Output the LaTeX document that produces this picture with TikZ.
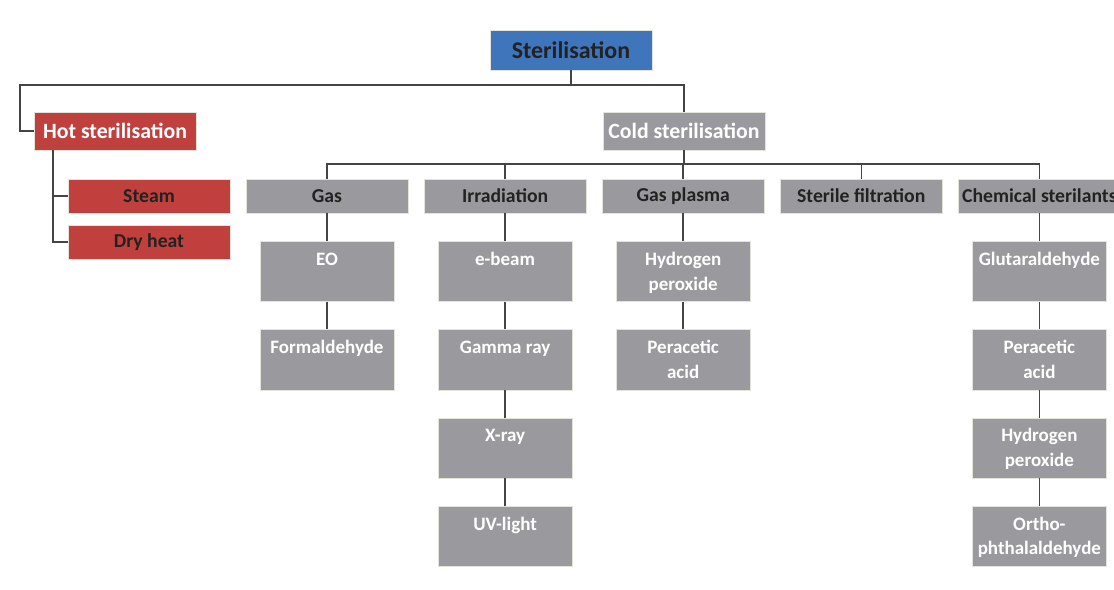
\documentclass[tikz,border=0pt]{standalone}
\usepackage{fontspec}
\setmainfont{Carlito}
\usetikzlibrary{positioning}
\definecolor{sterblue}{RGB}{63,117,186}
\definecolor{hotred}{RGB}{191,64,60}
\definecolor{coldgray}{RGB}{154,154,158}
\definecolor{linegray}{RGB}{68,68,68}
\definecolor{edgegray}{RGB}{228,228,220}
\definecolor{darktext}{RGB}{34,34,34}
\newcommand{\cell}[1]{\parbox[t]{3.2cm}{\centering #1}}

\begin{document}
\begin{tikzpicture}[x=0.025cm,y=-0.025cm,
	box/.style={draw=edgegray,line width=0.6pt,inner sep=0pt,minimum width=4.05cm},
	root/.style={box,fill=sterblue,text=darktext,minimum height=1cm,font=\fontsize{17}{20}\selectfont\bfseries},
	branch/.style={box,text=white,minimum height=0.95cm,font=\fontsize{15.5}{18}\selectfont\bfseries},
	method/.style={box,fill=coldgray,text=darktext,minimum height=0.85cm,font=\fontsize{14}{17}\selectfont\bfseries},
	hotmethod/.style={method,fill=hotred},
	leaf/.style={box,fill=coldgray,text=white,minimum width=3.35cm,text height=0.6cm,text depth=0.9cm,font=\fontsize{13.5}{17.7}\selectfont\bfseries},
	link/.style={draw=linegray,line width=1pt}
	]
	\useasboundingbox (0,0) rectangle (1114,590);
	%% top
	\node[root] (ster) at (571,50) {Sterilisation};
	\node[branch,fill=hotred] (hot) at (115,131) {Hot sterilisation};
	\node[branch,fill=coldgray] (cold) at (684,131) {Cold sterilisation};
	\coordinate (j0) at (571,85);
	\coordinate (hl) at (20,131);
	\draw[link] (ster.south) -- (j0) -| (hl) -- (hot.west);
	\draw[link] (j0) -| (cold.north);

	%% hot
	\node[hotmethod] (steam) at (149,196) {Steam};
	\node[hotmethod,below=0.28cm of steam] (dry) {Dry heat};
	\coordinate (h0) at (53,150);
	\draw[link] (h0) |- (steam.west);
	\draw[link] (h0) |- (dry.west);

	%% cold
	\node[method] (gas) at (327,196) {Gas};
	\node[method,right=0.38cm of gas] (irr) {Irradiation};
	\node[method,right=0.38cm of irr] (plasma) {Gas plasma};
	\node[method,right=0.38cm of plasma] (filt) {Sterile filtration};
	\node[method,right=0.38cm of filt] (chem) {Chemical sterilants};
	\coordinate (j1) at (684,164);
	\draw[link] (cold.south) -- (j1);
	\foreach \m in {gas,irr,plasma,filt,chem}
		\draw[link] (j1) -| (\m.north);

	% gas
	\node[leaf,below=0.7cm of gas] (eo) {\cell{EO}};
	\node[leaf,below=0.68cm of eo] (form) {\cell{Formaldehyde}};
	\draw[link] (gas) -- (eo) -- (form);
	% irradiation
	\node[leaf,below=0.7cm of irr] (ebeam) {\cell{e-beam}};
	\node[leaf,below=0.68cm of ebeam] (gamma) {\cell{Gamma ray}};
	\node[leaf,below=0.68cm of gamma] (xray) {\cell{X-ray}};
	\node[leaf,below=0.68cm of xray] (uv) {\cell{UV-light}};
	\draw[link] (irr) -- (ebeam) -- (gamma) -- (xray) -- (uv);
	% gas plasma
	\node[leaf,below=0.7cm of plasma] (hp) {\cell{Hydrogen\\peroxide}};
	\node[leaf,below=0.68cm of hp] (pa) {\cell{Peracetic\\acid}};
	\draw[link] (plasma) -- (hp) -- (pa);
	% chemical
	\node[leaf,below=0.7cm of chem] (glut) {\cell{Glutaraldehyde}};
	\node[leaf,below=0.68cm of glut] (chpa) {\cell{Peracetic\\acid}};
	\node[leaf,below=0.68cm of chpa] (chhp) {\cell{Hydrogen\\peroxide}};
	\node[leaf,below=0.68cm of chhp] (opa) {\cell{Ortho-\\phthalaldehyde}};
	\draw[link] (chem) -- (glut) -- (chpa) -- (chhp) -- (opa);
\end{tikzpicture}
\end{document}
